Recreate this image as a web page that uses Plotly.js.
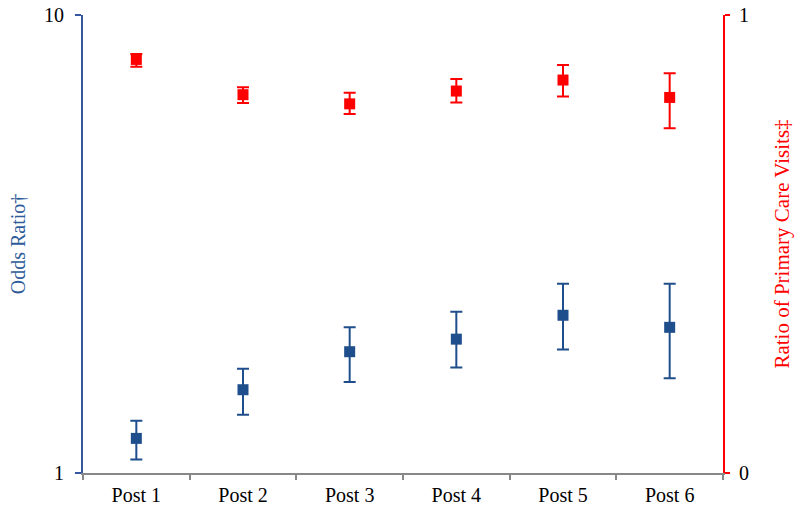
<!DOCTYPE html>
<html>
<head>
<meta charset="utf-8">
<script src="https://cdn.plot.ly/plotly-3.0.1.min.js"></script>
<style>html,body{margin:0;padding:0;background:#fff;}#chart{width:800px;height:520px;}</style>
</head>
<body>
<div id="chart"></div>
<script>
const categories = ["Post 1", "Post 2", "Post 3", "Post 4", "Post 5", "Post 6"];

// Odds ratio (left, log axis) with confidence limits
const oddsRatio = [1.19, 1.52, 1.84, 1.96, 2.21, 2.08];
const oddsLow   = [1.07, 1.34, 1.58, 1.70, 1.86, 1.61];
const oddsHigh  = [1.30, 1.69, 2.08, 2.25, 2.59, 2.59];

// Ratio of primary care visits (right axis) with confidence limits
const visitRatio = [0.903, 0.826, 0.806, 0.834, 0.858, 0.820];
const visitLow   = [0.887, 0.808, 0.784, 0.809, 0.822, 0.753];
const visitHigh  = [0.915, 0.842, 0.830, 0.860, 0.891, 0.873];

const blue = "#1F4E8C";
const red = "#FF0000";
const font = "Liberation Serif, Times New Roman, serif";

const traces = [
  {
    x: categories, y: oddsRatio, type: "scatter", mode: "markers",
    marker: {symbol: "square", size: 11, color: blue},
    error_y: {type: "data", symmetric: false,
      array: oddsHigh.map((h, i) => h - oddsRatio[i]),
      arrayminus: oddsRatio.map((v, i) => v - oddsLow[i]),
      color: blue, thickness: 2, width: 6},
    yaxis: "y", showlegend: false, hoverinfo: "x+y"
  },
  {
    x: categories, y: visitRatio, type: "scatter", mode: "markers",
    marker: {symbol: "square", size: 11, color: red},
    error_y: {type: "data", symmetric: false,
      array: visitHigh.map((h, i) => h - visitRatio[i]),
      arrayminus: visitRatio.map((v, i) => v - visitLow[i]),
      color: red, thickness: 2, width: 6},
    yaxis: "y2", showlegend: false, hoverinfo: "x+y"
  }
];

const layout = {
  width: 800, height: 520,
  margin: {l: 83, r: 77, t: 15, b: 47},
  paper_bgcolor: "#fff", plot_bgcolor: "#fff",
  font: {family: font, size: 20, color: "#000"},
  xaxis: {
    type: "category", range: [-0.5, 5.5], tickson: "boundaries",
    ticks: "outside", ticklen: 5, tickcolor: "#888", tickwidth: 2,
    showline: true, linecolor: "#888", linewidth: 2,
    showgrid: false, zeroline: false,
    tickfont: {family: font, size: 20, color: "#000"},
    ticklabelstandoff: 3, fixedrange: true
  },
  yaxis: {
    type: "log", range: [0, 1], tickvals: [1, 10], ticktext: ["1", "10"],
    ticks: "outside", ticklen: 6, tickcolor: "#3556A0", tickwidth: 2,
    showline: true, linecolor: "#3556A0", linewidth: 2,
    showgrid: false, zeroline: false,
    tickfont: {family: font, size: 20, color: "#000"},
    ticklabelstandoff: 7,
    title: {text: "Odds Ratio\u2020", font: {family: font, size: 20, color: "#2E5C9A"}, standoff: 13},
    fixedrange: true
  },
  yaxis2: {
    overlaying: "y", side: "right", range: [0, 1],
    tickvals: [0, 1], ticktext: ["0", "1"],
    ticks: "outside", ticklen: 5, tickcolor: red, tickwidth: 2,
    showline: true, linecolor: red, linewidth: 2,
    showgrid: false, zeroline: false,
    tickfont: {family: font, size: 20, color: "#000"},
    ticklabelstandoff: 5,
    title: {text: "Ratio of Primary Care Visits\u2021", font: {family: font, size: 21, color: red}, standoff: 26},
    fixedrange: true
  }
};

Plotly.newPlot("chart", traces, layout, {displayModeBar: false, staticPlot: true});
</script>
</body>
</html>
